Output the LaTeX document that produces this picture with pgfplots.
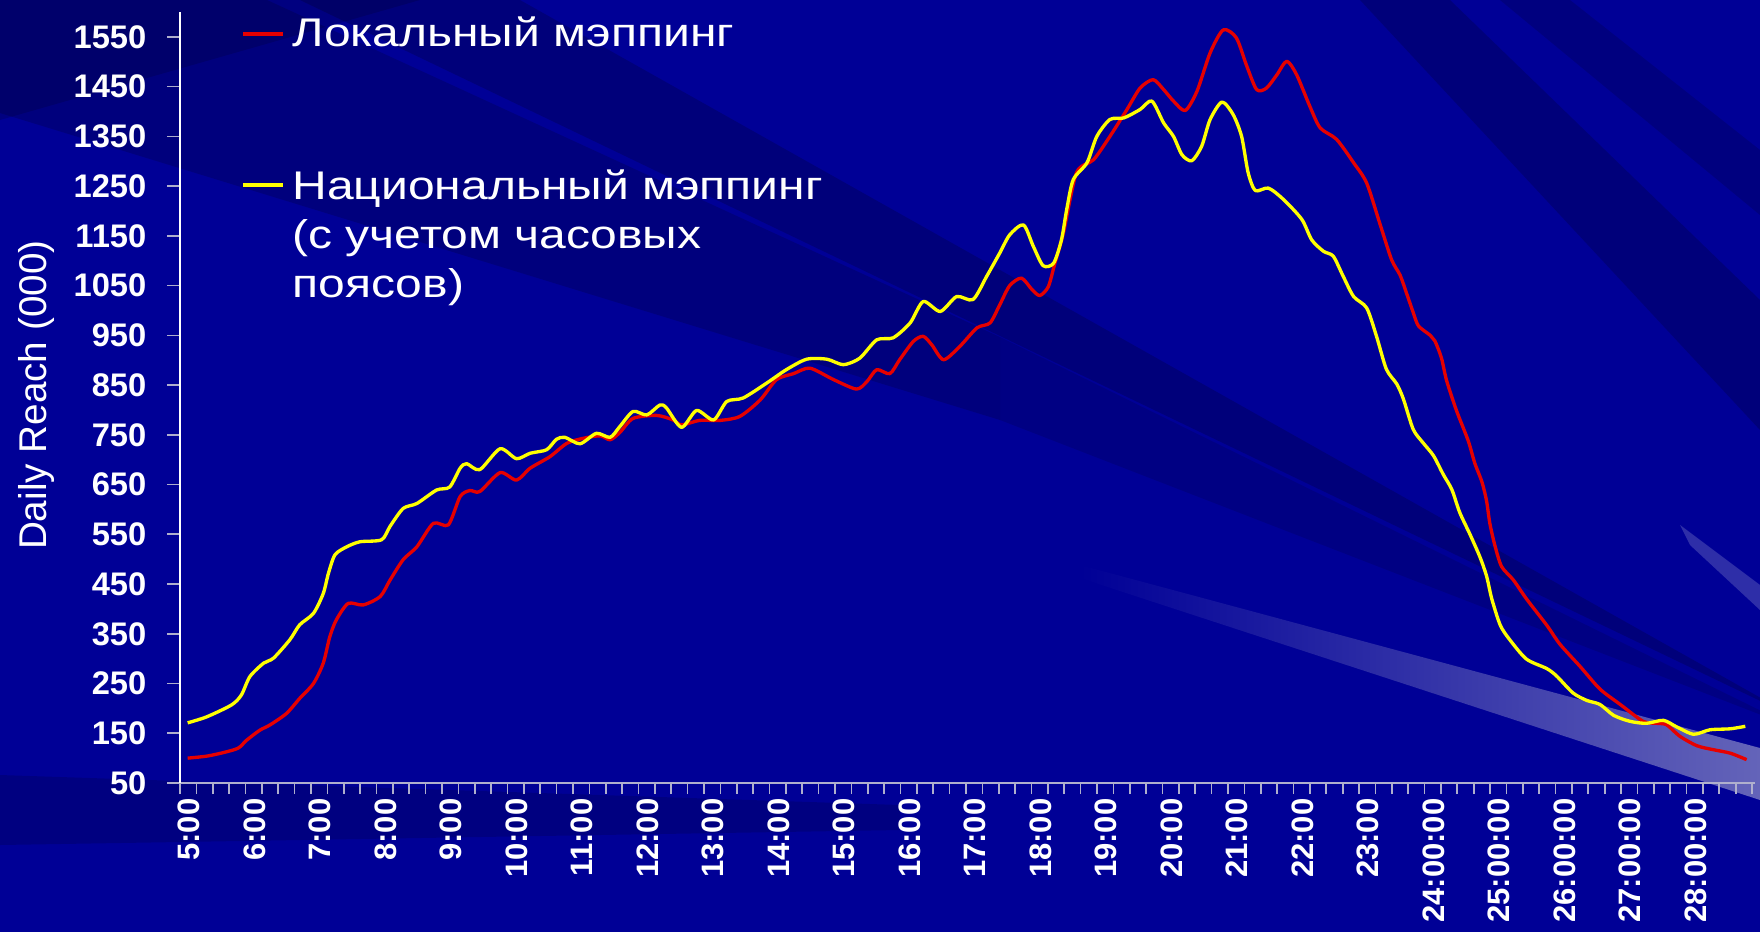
\documentclass[border=0pt]{standalone}
\usepackage{pgfplots}
\usepackage{pgfplotstable}
\pgfplotsset{compat=1.18}
\usepackage{fontspec}
\setmainfont{Liberation Sans}
\newfontfamily\legfont{Liberation Sans}[FakeStretch=1.2]
\definecolor{bgblue}{RGB}{0,0,150}
\definecolor{lred}{RGB}{230,0,0}
\definecolor{lyellow}{RGB}{255,255,0}
\definecolor{axgray}{RGB}{175,175,205}

\pgfplotstableread{
h v
4.98 100
5.27 104
5.52 111
5.75 120
5.88 136
6.08 156
6.24 167
6.49 190
6.69 220
6.90 250
7.05 291
7.15 344
7.25 378
7.43 411
7.66 408
7.92 425
8.07 458
8.27 499
8.48 525
8.73 572
8.96 569
9.14 626
9.29 638
9.44 636
9.75 674
10.00 659
10.21 683
10.51 706
10.77 733
11.02 743
11.28 748
11.43 740
11.58 755
11.78 783
12.14 789
12.39 780
12.52 770
12.80 779
13.11 779
13.41 787
13.72 820
13.97 861
14.23 873
14.48 884
14.84 861
15.19 842
15.35 857
15.50 881
15.70 873
15.85 901
16.06 938
16.21 948
16.34 931
16.52 901
16.77 928
17.03 965
17.23 975
17.38 1012
17.53 1050
17.71 1065
17.87 1042
17.99 1030
18.12 1048
18.22 1095
18.35 1156
18.55 1277
18.81 1303
19.06 1350
19.32 1404
19.52 1447
19.72 1464
19.88 1444
20.03 1421
20.21 1402
20.39 1441
20.59 1518
20.79 1564
20.99 1548
21.15 1491
21.30 1444
21.45 1447
21.61 1474
21.76 1501
21.91 1474
22.11 1411
22.27 1367
22.52 1344
22.78 1297
22.98 1256
23.18 1175
23.36 1102
23.49 1071
23.59 1034
23.69 996
23.77 969
23.95 950
24.02 939
24.12 905
24.20 859
24.35 799
24.53 738
24.63 693
24.74 655
24.81 617
24.86 572
24.94 526
25.04 485
25.22 458
25.42 420
25.73 367
25.93 329
26.24 284
26.54 239
26.85 208
27.20 174
27.41 170
27.56 167
27.76 144
28.02 125
28.27 117
28.53 110
28.78 97
}\localdata

\pgfplotstableread{
h v
4.98 171
5.27 183
5.65 207
5.80 227
5.93 264
6.14 291
6.29 301
6.54 338
6.69 368
6.90 391
7.05 431
7.13 472
7.23 509
7.41 525
7.61 535
7.94 539
8.07 566
8.27 602
8.48 612
8.78 639
8.98 645
9.14 683
9.24 692
9.44 680
9.75 722
10.00 702
10.21 713
10.46 720
10.61 741
10.74 745
10.97 732
11.22 753
11.43 745
11.58 767
11.78 797
11.99 790
12.19 810
12.29 804
12.52 765
12.75 799
13.01 780
13.21 817
13.46 824
13.82 854
14.12 881
14.43 902
14.74 902
14.99 891
15.24 904
15.50 941
15.75 945
16.01 975
16.21 1018
16.47 998
16.72 1028
16.97 1022
17.18 1069
17.38 1116
17.53 1152
17.74 1172
17.89 1129
18.04 1090
18.20 1095
18.32 1142
18.40 1203
18.50 1263
18.71 1297
18.86 1350
19.06 1384
19.27 1387
19.52 1404
19.70 1421
19.88 1377
20.03 1350
20.16 1313
20.31 1301
20.46 1330
20.59 1384
20.77 1419
20.94 1394
21.07 1350
21.17 1277
21.28 1241
21.48 1246
21.71 1223
21.99 1183
22.14 1142
22.32 1119
22.47 1109
22.62 1069
22.78 1028
22.98 1005
23.13 948
23.28 882
23.44 852
23.54 822
23.69 761
23.84 734
24.00 708
24.15 670
24.28 640
24.40 594
24.56 549
24.71 504
24.81 466
24.89 420
25.02 367
25.17 337
25.42 299
25.73 280
25.88 265
26.13 231
26.34 216
26.54 208
26.75 186
27.00 174
27.25 170
27.51 176
27.71 163
27.97 148
28.22 157
28.53 159
28.76 164
}\nationaldata

\begin{document}
\begin{tikzpicture}
\useasboundingbox (0,0) rectangle (528pt,279.6pt);
\fill[bgblue] (0,0) rectangle (528pt,279.6pt);
\begin{scope}[yshift=279.6pt, x=0.3pt, y=-0.3pt]
  % dark rays
  \fill[black, opacity=0.14] (0,0) -- (420,0) -- (0,120) -- cycle;
  \fill[black, opacity=0.16] (0,0) -- (267,0) -- (1000,337) -- (1000,420) -- (0,113) -- cycle;
  \fill[black, opacity=0.12] (1000,337) -- (1000,420) -- (1800,730) -- cycle;
  \fill[black, opacity=0.18] (300,0) -- (520,0) -- (1800,720) -- cycle;
  \fill[black, opacity=0.18] (1360,0) -- (1450,0) -- (1760,300) -- (1760,430) -- cycle;
  \fill[black, opacity=0.15] (1500,0) -- (1570,0) -- (1760,150) -- (1760,215) -- cycle;
  \fill[black, opacity=0.14] (0,775) -- (0,845) -- (900,830) -- (900,805) -- cycle;
  % light wedge
  \shade[left color=bgblue, right color={rgb,255:red,100;green,100;blue,185}] (1080,565) -- (1760,748) -- (1760,800) -- (1080,578) -- cycle;
  \fill[white, opacity=0.18] (1680,525) -- (1760,585) -- (1760,610) -- (1690,545) -- cycle;
\end{scope}
\begin{axis}[
  at={(54pt,44.7pt)}, anchor=south west,
  scale only axis, width=472.5pt, height=231.3pt,
  xmin=4.863, xmax=28.908, ymin=50, ymax=1600,
  axis x line*=bottom, axis y line*=left,
  x axis line style={-, color=axgray, line width=0.6pt},
  y axis line style={-, white, line width=0.5pt},
  tick align=outside,
  ytick={50,150,...,1550},
  xtick={5,...,28},
  xticklabels={5:00,6:00,7:00,8:00,9:00,10:00,11:00,12:00,13:00,14:00,15:00,16:00,17:00,18:00,19:00,20:00,21:00,22:00,23:00,24:00:00,25:00:00,26:00:00,27:00:00,28:00:00},
  minor xtick={4.863,5.113,...,28.9},
  major x tick style={draw=none},
  minor x tick style={axgray, line width=0.5pt},
  ytick style={axgray, line width=0.5pt},
  major tick length=3.9pt, minor tick length=3.3pt,
  /pgf/number format/assume math mode=true,
  /pgf/number format/1000 sep={},
  ticklabel style={text=white, inner sep=0pt},
  xticklabel style={font=\bfseries\fontsize{9.3}{9.5}\selectfont, rotate=90, anchor=east},
  xticklabel shift=0.6pt,
  yticklabel style={font=\bfseries\fontsize{9.8}{10}\selectfont, anchor=east, xshift=-6pt},
  ylabel={Daily Reach (000)},
  ylabel style={font=\fontsize{11.6}{12}\selectfont, text=white, at={(axis description cs:-0.0914,0.503)}, anchor=center},
  legend style={at={(axis description cs:0.0387,0.999)}, anchor=north west, draw=none, fill=none, text=white,
    font=\legfont\fontsize{12}{14.7}\selectfont, row sep=32.2pt, inner sep=0pt, nodes={inner sep=1pt},
    /tikz/every odd column/.append style={column sep=1.2pt}},
  legend cell align=left,
  legend image code/.code={\draw[#1, line width=1.1pt] (0pt,0pt) -- (12pt,0pt);},
]
\addplot[lred, line width=1pt, line join=round, smooth, tension=0.45] table[x=h, y=v] {\localdata};
\addlegendentry{Локальный мэппинг}
\addplot[lyellow, line width=1pt, line join=round, smooth, tension=0.45] table[x=h, y=v] {\nationaldata};
\addlegendentry{{\begin{tabular}[t]{@{}l@{}}Национальный мэппинг\\(с учетом часовых\\поясов)\end{tabular}}}
\end{axis}
\end{tikzpicture}
\end{document}
